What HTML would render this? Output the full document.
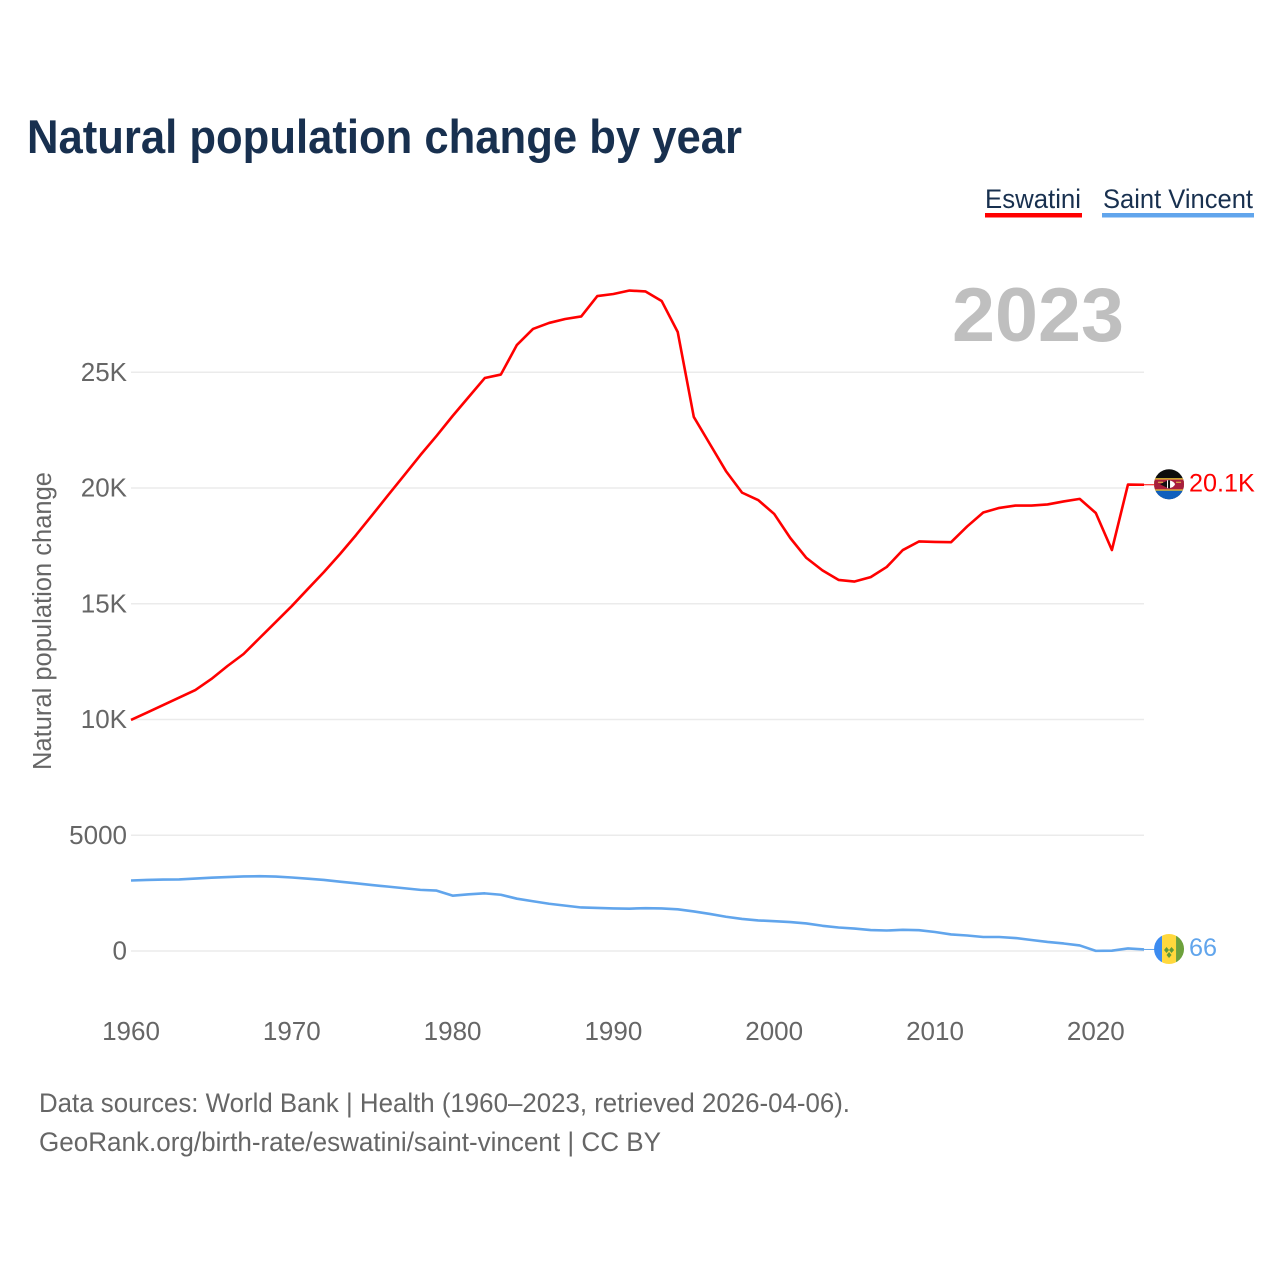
<!DOCTYPE html>
<html lang="en">
<head>
<meta charset="utf-8">
<title>Natural population change by year</title>
<style>
  html, body { margin: 0; padding: 0; background: #fff; }
  svg { display: block; font-family: "Liberation Sans", sans-serif; }
</style>
</head>
<body>
<svg id="chart" xmlns="http://www.w3.org/2000/svg" width="1280" height="1280" viewBox="0 0 1280 1280">
  <defs>
    <clipPath id="clip-eswatini"><circle cx="0" cy="0" r="15"/></clipPath>
    <clipPath id="clip-vincent"><circle cx="0" cy="0" r="15"/></clipPath>
  </defs>
  <rect width="1280" height="1280" fill="#ffffff"/>
  <text x="27" y="153" font-size="47" font-weight="700" fill="#18304f" textLength="715" lengthAdjust="spacingAndGlyphs">Natural population change by year</text>

  <g>
    <text x="985" y="208" font-size="27" fill="#18304f" textLength="96" lengthAdjust="spacingAndGlyphs">Eswatini</text>
    <rect x="985" y="213" width="97" height="4.5" fill="#ff0000"/>
  </g>
  <g>
    <text x="1103" y="208" font-size="27" fill="#18304f" textLength="150" lengthAdjust="spacingAndGlyphs">Saint Vincent</text>
    <rect x="1102" y="213" width="152" height="4.5" fill="#61a5ec"/>
  </g>

  <g id="grid"></g>
  <g id="y-axis"></g>
  <g id="x-axis"></g>
  <text transform="translate(51 621) rotate(-90)" text-anchor="middle" font-size="25.5" fill="#666666" textLength="298" lengthAdjust="spacingAndGlyphs">Natural population change</text>
  <text x="952" y="341" font-size="76" font-weight="700" fill="#bfbfbf" textLength="172" lengthAdjust="spacingAndGlyphs">2023</text>

  <g id="series"></g>

  <g id="flag-eswatini">
    <g clip-path="url(#clip-eswatini)">
      <rect x="-15" y="-16" width="30" height="32" fill="#0d0d0d"/>
      <rect x="-15" y="-6" width="30" height="12.5" fill="#ffd83d"/>
      <rect x="-15" y="-4.8" width="30" height="10" fill="#a81f3d"/>
      <rect x="-15" y="6.5" width="30" height="10" fill="#0f5fbd"/>
      <path d="M-9 0 L-2 -3.5 L-2 3.5 Z" fill="#111111"/>
      <path d="M-2 -4 L0 -4 Q5 -3 6 0 Q5 3 0 4 L-2 4 Z" fill="#ffffff"/>
      <rect x="-1" y="-4" width="2" height="8" fill="#111111"/>
      <rect x="-11" y="-2.5" width="5" height="1" fill="#e8c84a"/>
      <rect x="7" y="-2.5" width="5" height="1" fill="#e8c84a"/>
    </g>
  </g>
  <g id="flag-vincent">
    <g clip-path="url(#clip-vincent)">
      <rect x="-15" y="-16" width="8" height="32" fill="#3c8bf0"/>
      <rect x="-7" y="-16" width="14" height="32" fill="#ffd83d"/>
      <rect x="7" y="-16" width="8" height="32" fill="#6da13c"/>
      <path d="M-5 1 L-2.5 -2 L0 1 L-2.5 4 Z" fill="#5f9a3a"/>
      <path d="M0 1 L2.5 -2 L5 1 L2.5 4 Z" fill="#5f9a3a"/>
      <path d="M-2.5 6 L0 3 L2.5 6 L0 9 Z" fill="#5f9a3a"/>
    </g>
  </g>

  <text x="39" y="1112" font-size="27" fill="#666666" textLength="811" lengthAdjust="spacingAndGlyphs">Data sources: World Bank | Health (1960–2023, retrieved 2026-04-06).</text>
  <text x="39" y="1151" font-size="27" fill="#666666" textLength="622" lengthAdjust="spacingAndGlyphs">GeoRank.org/birth-rate/eswatini/saint-vincent | CC BY</text>
</svg>

<script>
const startYear = 1960;
const xTickYears = [1960, 1970, 1980, 1990, 2000, 2010, 2020];
const yTickValues = [0, 5000, 10000, 15000, 20000, 25000];
const yTickLabels = ["0", "5000", "10K", "15K", "20K", "25K"];
const eswatiniValues = [
  9980, 10300, 10625, 10950, 11270, 11750, 12310, 12830, 13520, 14210,
  14900, 15640, 16370, 17150, 17970, 18830, 19700, 20560, 21425, 22250,
  23110, 23930, 24750, 24900, 26180, 26870, 27130, 27300, 27410, 28290,
  28380, 28530, 28490, 28080, 26740, 23070, 21900, 20730, 19800, 19480,
  18880, 17840, 16980, 16440, 16030, 15960, 16150, 16590, 17320, 17690,
  17670, 17660, 18340, 18940, 19140, 19240, 19240, 19290, 19420, 19530,
  18920, 17320, 20150, 20140
];
const saintVincentValues = [
  3045, 3070, 3085, 3090, 3130, 3165, 3195, 3220, 3230, 3215,
  3175, 3125, 3070, 2995, 2925, 2850, 2780, 2710, 2640, 2610,
  2390, 2450, 2490, 2430, 2260, 2150, 2040, 1960, 1880, 1860,
  1840, 1830, 1850, 1840, 1800, 1710, 1600, 1480, 1385, 1320,
  1290, 1250, 1190, 1090, 1015, 970, 905, 885, 915, 900,
  820, 715, 670, 605, 605, 560, 475, 390, 325, 240,
  5, 15, 110, 66
];

const SVG_NS = "http://www.w3.org/2000/svg";
const xScale = function (year) { return 131 + (year - 1960) * 16.08; };
const yScale = function (value) { return 951 - value * 0.02315; };
const formatValue = function (v) {
  return v >= 1000 ? (v / 1000).toFixed(1) + "K" : String(v);
};
const createText = function (parent, x, y, size, fill, anchor, content) {
  const t = document.createElementNS(SVG_NS, "text");
  t.setAttribute("x", x);
  t.setAttribute("y", y);
  t.setAttribute("font-size", size);
  t.setAttribute("fill", fill);
  t.setAttribute("text-anchor", anchor);
  t.textContent = content;
  parent.appendChild(t);
  return t;
};

const grid = document.getElementById("grid");
const yAxis = document.getElementById("y-axis");
yTickValues.forEach(function (v, i) {
  const y = yScale(v);
  const line = document.createElementNS(SVG_NS, "line");
  line.setAttribute("x1", 131);
  line.setAttribute("x2", 1144);
  line.setAttribute("y1", y);
  line.setAttribute("y2", y);
  line.setAttribute("stroke", "#ebebeb");
  line.setAttribute("stroke-width", 1.5);
  
  
  grid.appendChild(line);
  const label = createText(yAxis, 127, y + 8.5, 26, "#666666", "end", yTickLabels[i]);
  
  
});

const xAxis = document.getElementById("x-axis");
xTickYears.forEach(function (year) {
  const label = createText(xAxis, xScale(year), 1040, 26, "#666666", "middle", String(year));
  
  
});

const seriesGroup = document.getElementById("series");
const drawSeries = function (values, color, name, flagId) {
  const points = values.map(function (v, i) {
    return xScale(startYear + i).toFixed(2) + "," + yScale(v).toFixed(2);
  });
  const line = document.createElementNS(SVG_NS, "polyline");
  line.setAttribute("points", points.join(" "));
  line.setAttribute("fill", "none");
  line.setAttribute("stroke", color);
  line.setAttribute("stroke-width", 2.6);
  line.setAttribute("stroke-linejoin", "round");
  
  
  seriesGroup.appendChild(line);

  const last = values[values.length - 1];
  const lastX = xScale(startYear + values.length - 1);
  const lastY = yScale(last);

  const connector = document.createElementNS(SVG_NS, "line");
  connector.setAttribute("x1", lastX);
  connector.setAttribute("x2", lastX + 11);
  connector.setAttribute("y1", lastY);
  connector.setAttribute("y2", lastY);
  connector.setAttribute("stroke", color);
  connector.setAttribute("stroke-width", 1);
  
  
  seriesGroup.appendChild(connector);

  document.getElementById(flagId).setAttribute("transform", "translate(" + (lastX + 25) + " " + (lastY - 0.5) + ")");

  const label = createText(seriesGroup, lastX + 45, lastY + 6.5, 25.2, color, "start", formatValue(last));
  
  
};

drawSeries(eswatiniValues, "#ff0000", "eswatini", "flag-eswatini");
drawSeries(saintVincentValues, "#61a5ec", "saint-vincent", "flag-vincent");
</script>
</body>
</html>
